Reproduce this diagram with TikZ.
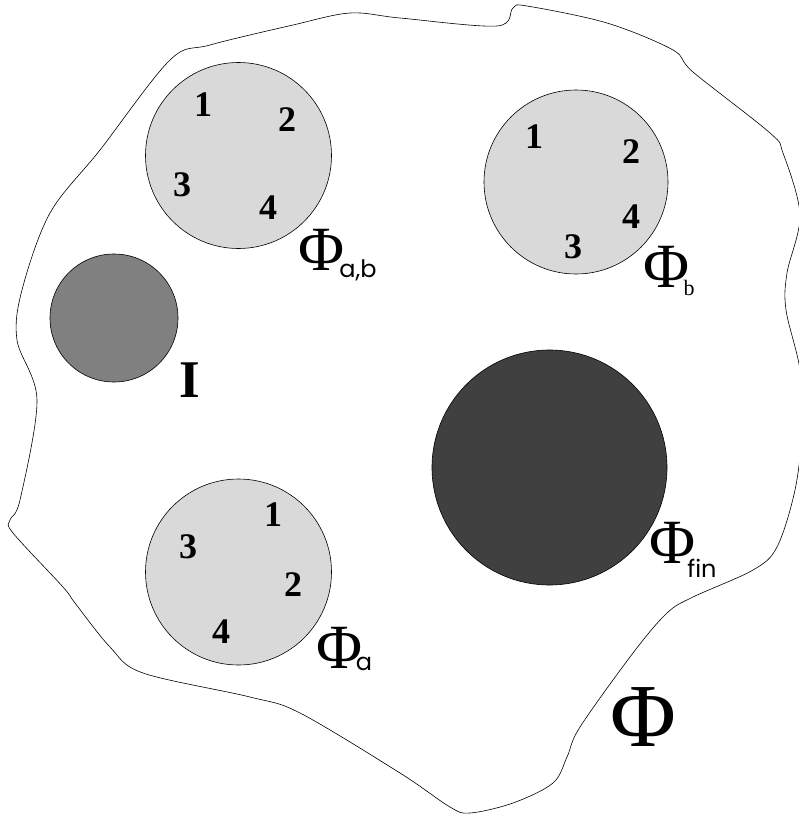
\documentclass[tikz,border=0pt]{standalone}
\usepackage{fontspec}
\setmainfont{Liberation Serif}
\newfontfamily\subfont{Poppins}
\usetikzlibrary{positioning}

\begin{document}
\begin{tikzpicture}[x=1pt, y=-1pt,
    set/.style = {draw, circle, line width=0.6pt, inner sep=0pt},
    light/.style = {set, fill=black!15, minimum size=186pt},
    num/.style = {font=\fontsize{36}{36}\selectfont\bfseries, inner sep=0pt},
    phi/.style = {font=\fontsize{63}{63}\selectfont, inner sep=0pt},
    sub/.style = {font=\fontsize{24}{24}\selectfont\subfont, inner sep=0pt}]
            \useasboundingbox (0,0) rectangle (798,814);

            % outer region
            \draw[line width=0.6pt] plot[smooth cycle, tension=0.55] coordinates {
                (37,400) (17,340) (22,290) (50,213) (100,150) (170,60) (210,45)
                (293,25) (350,13) (400,18) (497,26) (513,8) (527,6) (607,23)
                (673,50) (693,72) (770,133) (783,153) (800,215) (787,273)
                (786,310) (800,370) (802,430) (795,490) (777,547) (753,570)
                (693,597) (667,613) (633,653) (580,727) (567,757) (553,783)
                (513,803) (470,813) (450,807) (400,773) (300,713) (250,697)
                (143,673) (110,647) (75,603) (63,587) (13,533) (10,520) (20,500)};

            \node[light] (Pab) at (238.5,155.5) {};
            \node[set, fill=black!50, minimum size=128pt] (I) at (114,318) {};
            \node[light, minimum size=184pt] (Pb) at (576,182) {};
            \node[set, fill=black!75, minimum size=235pt] (Pfin) at (549.5,467.5) {};
            \node[light] (Pa) at (238.5,572) {};

            \node[num] (ab1) at (203,105) {1};
            \node[num] (ab2) at (287,120) {2};
            \node[num] (ab3) at (182,185) {3};
            \node[num] (ab4) at (268,208) {4};

            \node[num] (b1) at (534,137) {1};
            \node[num] (b2) at (631,152) {2};
            \node[num] (b4) at (631,217) {4};
            \node[num] (b3) at (573,247) {3};

            \node[num] (a1) at (273,515) {1};
            \node[num] (a3) at (188,547) {3};
            \node[num] (a2) at (293,585) {2};
            \node[num] (a4) at (221,632) {4};

            \node[font=\fontsize{53}{53}\selectfont\bfseries, inner sep=0pt] (Ilab) at (190,380) {I};

            \node[phi] (Lab) at (322,250) {Φ};
            \node[sub] (Labs) at (358,270) {a,b};
            \node[phi] (Lb) at (667,267) {Φ};
            \node[font=\fontsize{22}{22}\selectfont, inner sep=0pt] (Lbs) at (689,288) {b};
            \node[phi] (La) at (340,648) {Φ};
            \node[sub] (Las) at (364,664) {a};
            \node[phi] (Lfin) at (673,543) {Φ};
            \node[sub] (Lfins) at (702,568) {fin};
            \node[font=\fontsize{90}{90}\selectfont, inner sep=0pt] (L) at (643,717) {Φ};
        \end{tikzpicture}
\end{document}
